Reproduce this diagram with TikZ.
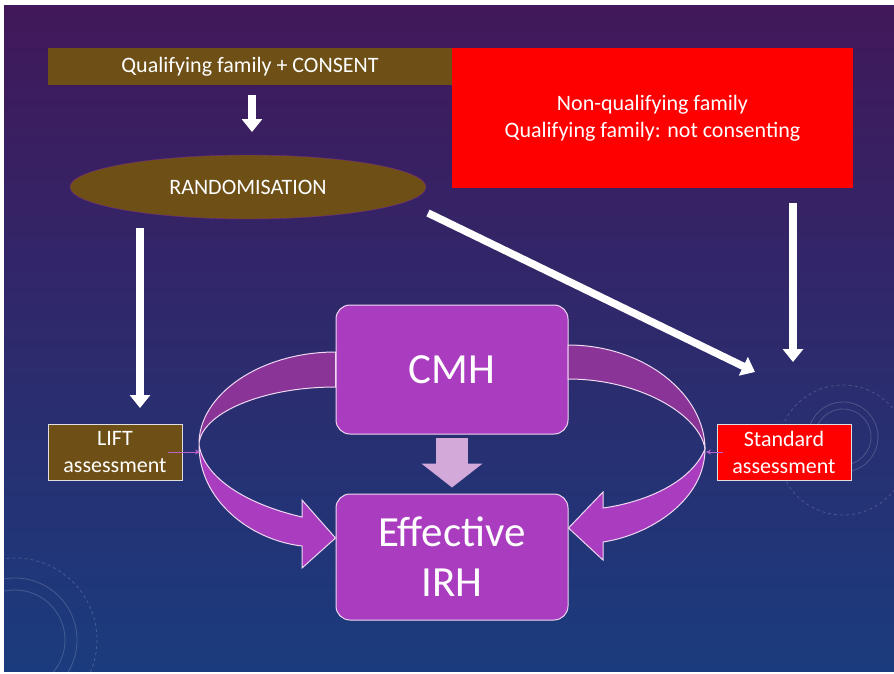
\documentclass[tikz,border=0pt]{standalone}
\usepackage{fontspec}
\setmainfont{Carlito}
\usetikzlibrary{arrows.meta,shapes.geometric,calc}
\definecolor{slidetop}{HTML}{41185A}
\definecolor{slidemid}{HTML}{2C296D}
\definecolor{slidebot}{HTML}{1A3C7E}
\definecolor{mudbrown}{HTML}{6E5017}
\definecolor{plum}{HTML}{A93CBF}
\definecolor{plumback}{HTML}{8B3498}
\definecolor{lilac}{HTML}{D3A9DA}
\begin{document}
\begin{tikzpicture}[x=1pt,y=-1pt,
 every node/.style = {text=white, align=center, inner sep=0pt, font=\fontsize{22}{27}\selectfont},
 brownbox/.style = {fill=mudbrown},
 redbox/.style = {fill=red},
 smallbox/.style = {draw=white!75!gray, line width=0.8pt, minimum width=134pt, minimum height=56pt},
 plumbox/.style = {fill=plum, draw=white!80!plum, line width=1pt, rounded corners=14pt,
   minimum width=232pt, font=\fontsize{43}{50}\selectfont},
 whitearrow/.style = {white, line width=7.5pt, -{Triangle[length=13pt,width=20pt]}},
 ribbon/.style = {draw=white!80!plum, line width=1pt},
 pin/.style = {draw=plum!80!white, line width=0.8pt, -{Stealth[length=5pt,width=5pt]}}]
 \useasboundingbox (0,0) rectangle (894,673);
 \fill[white] (0,0) rectangle (894,673);
 \shade[top color=slidetop, middle color=slidemid, bottom color=slidebot] (4,5) rectangle (894,671);
 \begin{scope}[draw=white, opacity=0.18, line width=0.8pt]
   \draw (15,640) circle (50);
   \draw (15,640) circle (62);
   \draw[dashed] (15,640) circle (82);
   \draw (843,437) circle (28);
   \draw (843,437) circle (35);
   \draw[dashed] (843,450) circle (65);
 \end{scope}
 \node[brownbox, minimum width=404pt, minimum height=37pt] (qualify) at (250,66.5) {Qualifying family + CONSENT};
 \node[redbox, minimum width=401pt, minimum height=140pt] (nonqual) at (652.5,118)
   {Non-qualifying family\\Qualifying family: not consenting};
 \node[ellipse, fill=mudbrown, draw=plum!70!black, minimum width=356pt, minimum height=64pt] (random) at (248,187) {RANDOMISATION};
 \node[brownbox, smallbox] (lift) at (115,452) {LIFT\\assessment};
 \node[redbox, smallbox] (standard) at (784,452) {Standard\\assessment};
 \node[plumbox, minimum height=129pt] (cmh) at (452,369.5) {CMH};
 \node[plumbox, minimum height=126pt] (irh) at (452,557) {Effective\\IRH};
 \coordinate (randin) at (252,132);
 \coordinate (liftout) at (140,228);
 \coordinate (liftin) at (140,408);
 \coordinate (diagout) at (428,213);
 \coordinate (stdin) at (755,372);
 \coordinate (nonqout) at (793,203);
 \coordinate (stdtop) at (793,362);
 \draw[whitearrow] ([yshift=-10pt]qualify.south -| randin) -- (randin);
 \draw[whitearrow] (liftout) -- (liftin);
 \draw[whitearrow] (diagout) -- (stdin);
 \draw[whitearrow] (nonqout) -- (stdtop);
 \draw[lilac, line width=32pt, -{Triangle[length=24pt,width=60pt]}] ([yshift=-3pt]cmh.south) -- ([yshift=6pt]irh.north);
 \fill[plumback, ribbon] ($(cmh.west)+(0,-17.5)$) .. controls (260,352) and (198,395) .. (199,445)
   .. controls (200,414) and (261,387) .. ($(cmh.west)+(0,17.5)$) -- cycle;
 \fill[plum, ribbon] (199,445) .. controls (199,500) and (250,540) .. (302,546) -- (302,568)
   -- ($(irh.west)+(0,-19)$) -- (302,500) -- (302,517) .. controls (250,505) and (205,480) .. cycle;
 \fill[plumback, ribbon] (568,345) .. controls (645,345) and (705,395) .. (705,449)
   .. controls (700,415) and (640,379) .. (568,379) -- cycle;
 \fill[plum, ribbon] (705,449) .. controls (705,500) and (650,535) .. (603,542) -- (603,560)
   -- ($(irh.east)+(0,-29)$) -- (603,492) -- (603,508) .. controls (640,503) and (690,485) .. cycle;
 \draw[pin] ([xshift=-14pt]lift.east) -- (200,452);
 \draw[pin] ([xshift=6pt]standard.west) -- (706,452);
\end{tikzpicture}
\end{document}
